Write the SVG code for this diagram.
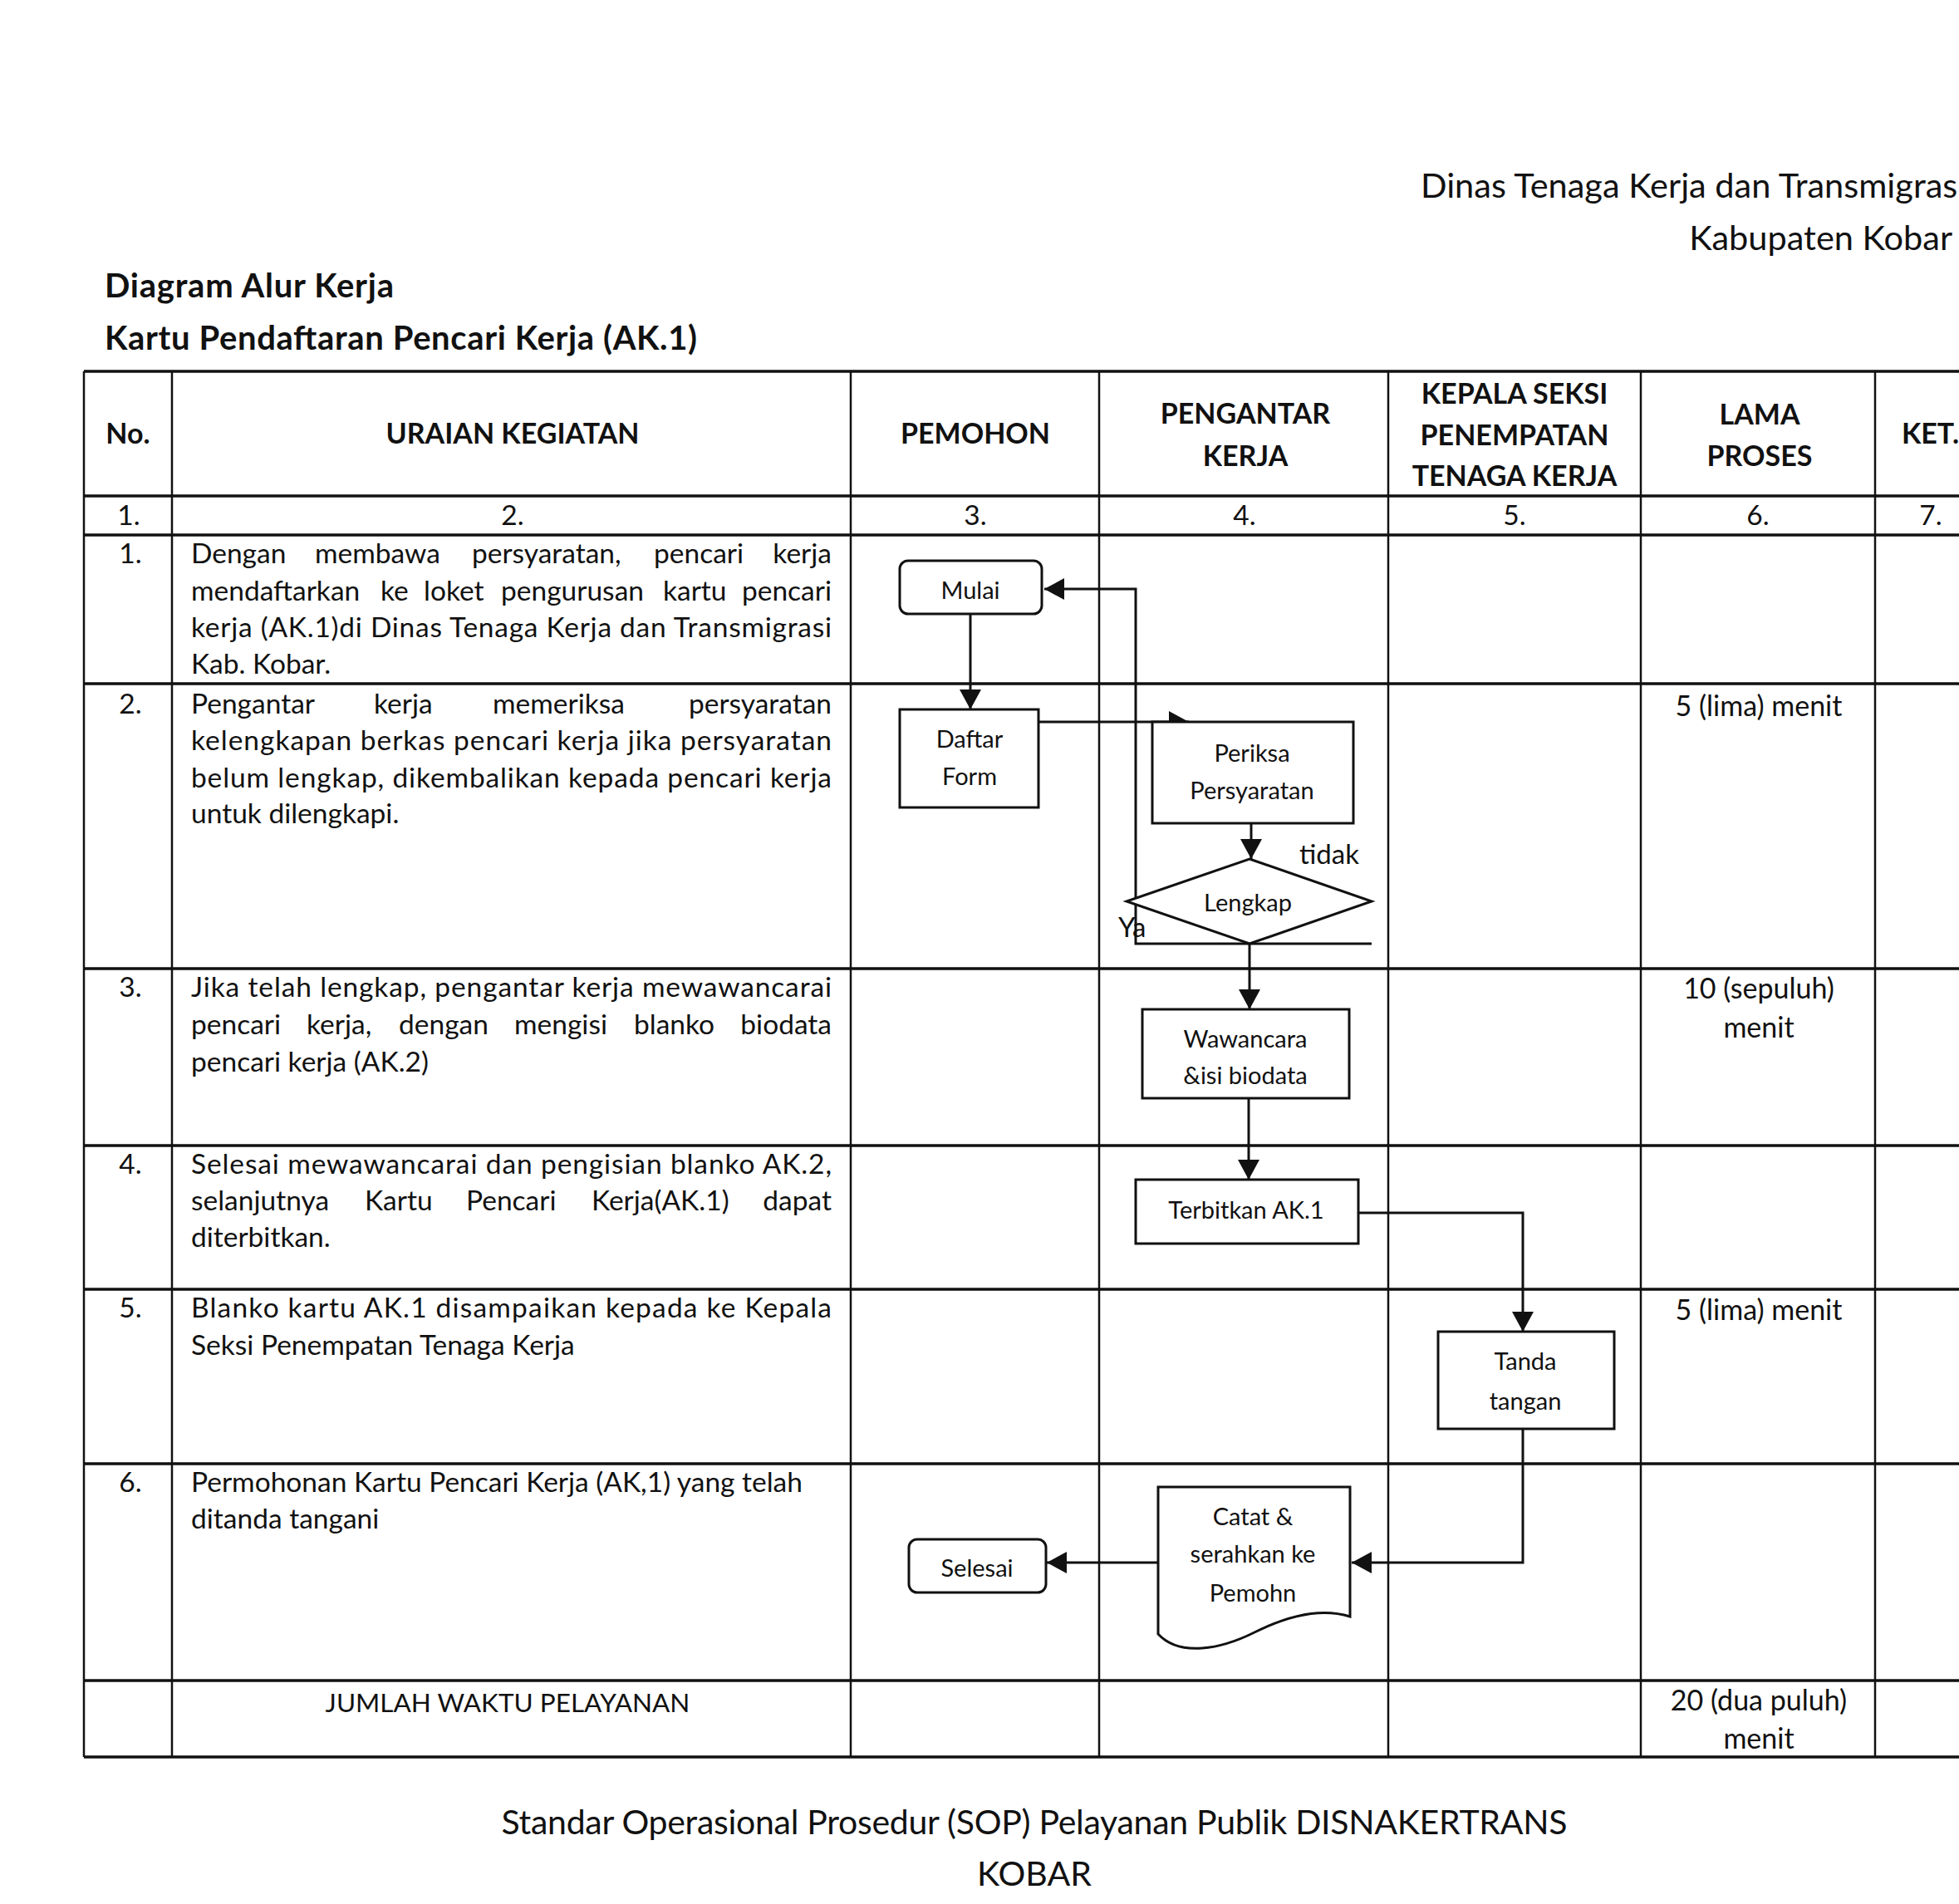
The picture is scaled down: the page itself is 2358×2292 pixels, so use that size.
<svg xmlns="http://www.w3.org/2000/svg" width="2358" height="2292" viewBox="0 0 2358 2292">
<style>
.t{font-family:Lato,'Liberation Sans',sans-serif;fill:#111;font-size:33.5px}
.b{font-weight:bold}
.h{font-family:Lato,'Liberation Sans',sans-serif;fill:#111;font-size:34px;font-weight:bold;text-anchor:middle}
.c{text-anchor:middle}
.n{font-family:Lato,'Liberation Sans',sans-serif;fill:#111;font-size:29px;text-anchor:middle}
.d{font-family:Lato,'Liberation Sans',sans-serif;fill:#111;font-size:34px;text-anchor:middle}
.hl{stroke:#111;stroke-width:3.5;fill:none}
.vl{stroke:#111;stroke-width:2.5;fill:none}
.box{fill:#fff;stroke:#111;stroke-width:3}
.con{fill:none;stroke:#111;stroke-width:3}
</style>
<defs>
<marker id="arr" viewBox="0 0 24 26" refX="24" refY="13" markerWidth="24" markerHeight="26" orient="auto" markerUnits="userSpaceOnUse">
<path d="M0,0 L24,13 L0,26 Z" fill="#111"/>
</marker>
</defs>
<rect width="2358" height="2292" fill="#fff"/>

<g id="page-header">
<text class="t" x="1710" y="238" style="font-size:41.5px">Dinas Tenaga Kerja dan Transmigras</text>
<text class="t" x="2350" y="301" style="font-size:41.5px;text-anchor:end">Kabupaten Kobar</text>
<text class="t b" x="126" y="358" style="font-size:40px" textLength="348">Diagram Alur Kerja</text>
<text class="t b" x="126" y="421" style="font-size:40px" textLength="713">Kartu Pendaftaran Pencari Kerja (AK.1)</text>
</g>

<g id="table">
<g id="grid-h">
<line class="hl" x1="101" y1="447" x2="2358" y2="447"/>
<line class="hl" x1="101" y1="597" x2="2358" y2="597"/>
<line class="hl" x1="101" y1="644" x2="2358" y2="644"/>
<line class="hl" x1="101" y1="823" x2="2358" y2="823"/>
<line class="hl" x1="101" y1="1166" x2="2358" y2="1166"/>
<line class="hl" x1="101" y1="1379" x2="2358" y2="1379"/>
<line class="hl" x1="101" y1="1552" x2="2358" y2="1552"/>
<line class="hl" x1="101" y1="1762" x2="2358" y2="1762"/>
<line class="hl" x1="101" y1="2023" x2="2358" y2="2023"/>
<line class="hl" x1="101" y1="2115" x2="2358" y2="2115"/>
</g>
<g id="grid-v">
<line class="vl" x1="101" y1="447" x2="101" y2="2115"/>
<line class="vl" x1="207" y1="447" x2="207" y2="2115"/>
<line class="vl" x1="1024" y1="447" x2="1024" y2="2115"/>
<line class="vl" x1="1323" y1="447" x2="1323" y2="2115"/>
<line class="vl" x1="1671" y1="447" x2="1671" y2="2115"/>
<line class="vl" x1="1975" y1="447" x2="1975" y2="2115"/>
<line class="vl" x1="2257" y1="447" x2="2257" y2="2115"/>
</g>
<g id="headers">
<text class="h" x="154" y="534">No.</text>
<text class="h" x="617" y="534">URAIAN KEGIATAN</text>
<text class="h" x="1174" y="534">PEMOHON</text>
<text class="h" x="1499" y="510">PENGANTAR</text>
<text class="h" x="1499" y="561">KERJA</text>
<text class="h" x="1823" y="486">KEPALA SEKSI</text>
<text class="h" x="1823" y="536">PENEMPATAN</text>
<text class="h" x="1823" y="585">TENAGA KERJA</text>
<text class="h" x="2118" y="511">LAMA</text>
<text class="h" x="2118" y="561">PROSES</text>
<text class="h" x="2289" y="534" style="text-anchor:start">KET.</text>
</g>
<g id="col-numbers">
<text class="t c" x="155" y="632">1.</text>
<text class="t c" x="617" y="632">2.</text>
<text class="t c" x="1174" y="632">3.</text>
<text class="t c" x="1498" y="632">4.</text>
<text class="t c" x="1823" y="632">5.</text>
<text class="t c" x="2116" y="632">6.</text>
<text class="t c" x="2324" y="632">7.</text>
</g>
<g id="row-numbers">
<text class="t c" x="157" y="678">1.</text>
<text class="t c" x="157" y="859">2.</text>
<text class="t c" x="157" y="1200">3.</text>
<text class="t c" x="157" y="1413">4.</text>
<text class="t c" x="157" y="1586">5.</text>
<text class="t c" x="157" y="1796">6.</text>
</g>
<g id="descriptions">
<text class="t" y="678"><tspan x="230">Dengan</tspan> <tspan x="379">membawa</tspan> <tspan x="568">persyaratan,</tspan> <tspan x="787">pencari</tspan> <tspan x="1001" text-anchor="end">kerja</tspan></text>
<text class="t" y="723"><tspan x="230">mendaftarkan</tspan> <tspan x="458">ke</tspan> <tspan x="510">loket</tspan> <tspan x="603">pengurusan</tspan> <tspan x="798">kartu</tspan> <tspan x="1001" text-anchor="end">pencari</tspan></text>
<text class="t" x="230" y="767" textLength="771" lengthAdjust="spacing">kerja (AK.1)di Dinas Tenaga Kerja dan Transmigrasi</text>
<text class="t" x="230" y="811">Kab. Kobar.</text>

<text class="t" y="859"><tspan x="230">Pengantar</tspan> <tspan x="450">kerja</tspan> <tspan x="593">memeriksa</tspan> <tspan x="1001" text-anchor="end">persyaratan</tspan></text>
<text class="t" x="230" y="903" textLength="771" lengthAdjust="spacing">kelengkapan berkas pencari kerja jika persyaratan</text>
<text class="t" x="230" y="948" textLength="771" lengthAdjust="spacing">belum lengkap, dikembalikan kepada pencari kerja</text>
<text class="t" x="230" y="991">untuk dilengkapi.</text>

<text class="t" x="230" y="1200" textLength="771" lengthAdjust="spacing">Jika telah lengkap, pengantar kerja  mewawancarai</text>
<text class="t" y="1245"><tspan x="230">pencari</tspan> <tspan x="369">kerja,</tspan> <tspan x="480">dengan</tspan> <tspan x="619">mengisi</tspan> <tspan x="763">blanko</tspan> <tspan x="1001" text-anchor="end">biodata</tspan></text>
<text class="t" x="230" y="1290">pencari kerja (AK.2)</text>

<text class="t" x="230" y="1413" textLength="771" lengthAdjust="spacing">Selesai mewawancarai dan pengisian blanko AK.2,</text>
<text class="t" y="1457"><tspan x="230">selanjutnya</tspan> <tspan x="439">Kartu</tspan> <tspan x="561">Pencari</tspan> <tspan x="712">Kerja(AK.1)</tspan> <tspan x="1001" text-anchor="end">dapat</tspan></text>
<text class="t" x="230" y="1501">diterbitkan.</text>

<text class="t" x="230" y="1586" textLength="771" lengthAdjust="spacing">Blanko kartu AK.1 disampaikan kepada  ke Kepala</text>
<text class="t" x="230" y="1631">Seksi  Penempatan Tenaga Kerja</text>

<text class="t" x="230" y="1796">Permohonan Kartu Pencari Kerja (AK,1) yang telah</text>
<text class="t" x="230" y="1840">ditanda tangani</text>

<text class="t c" x="611" y="2061" style="font-size:31.5px">JUMLAH WAKTU PELAYANAN</text>
</g>
<g id="durations">
<text class="d" x="2117" y="862">5 (lima) menit</text>
<text class="d" x="2117" y="1202">10 (sepuluh)</text>
<text class="d" x="2117" y="1249">menit</text>
<text class="d" x="2117" y="1589">5 (lima) menit</text>
<text class="d" x="2117" y="2059">20 (dua puluh)</text>
<text class="d" x="2117" y="2105">menit</text>
</g>
</g>

<g id="connectors">
<path class="con" d="M1168,739 V854" marker-end="url(#arr)"/>
<path class="con" d="M1250,869 H1431" marker-end="url(#arr)"/>
<path class="con" d="M1506,991 V1034" marker-end="url(#arr)"/>
<path class="con" d="M1651,1136 H1367 V709 H1257" marker-end="url(#arr)"/>
<path class="con" d="M1504,1136 V1215" marker-end="url(#arr)"/>
<path class="con" d="M1503,1322 V1420" marker-end="url(#arr)"/>
<path class="con" d="M1635,1460 H1833 V1603" marker-end="url(#arr)"/>
<path class="con" d="M1833,1720 V1881 H1627" marker-end="url(#arr)"/>
<path class="con" d="M1394,1881 H1260" marker-end="url(#arr)"/>
<text class="t" x="1564" y="1040" style="font-size:33px">tidak</text>
<text class="t" x="1346" y="1128" style="font-size:33px">Ya</text>
</g>

<g id="node-mulai">
<rect class="box" x="1083" y="675" width="171" height="64" rx="10"/>
<text class="n" x="1168" y="721">Mulai</text>
</g>
<g id="node-daftar">
<rect class="box" x="1083" y="854" width="167" height="118"/>
<text class="n" x="1167" y="900">Daftar</text>
<text class="n" x="1167" y="945">Form</text>
</g>
<g id="node-periksa">
<rect class="box" x="1387" y="869" width="242" height="122"/>
<text class="n" x="1507" y="917">Periksa</text>
<text class="n" x="1507" y="962">Persyaratan</text>
</g>
<g id="node-lengkap">
<polygon class="box" points="1504,1034 1651,1085 1504,1136 1356,1085"/>
<text class="n" x="1502" y="1097">Lengkap</text>
</g>
<g id="node-wawancara">
<rect class="box" x="1375" y="1215" width="249" height="107"/>
<text class="n" x="1499" y="1261">Wawancara</text>
<text class="n" x="1499" y="1305">&amp;isi biodata</text>
</g>
<g id="node-terbitkan">
<rect class="box" x="1367" y="1420" width="268" height="77"/>
<text class="n" x="1500" y="1467">Terbitkan AK.1</text>
</g>
<g id="node-tanda">
<rect class="box" x="1731" y="1603" width="212" height="117"/>
<text class="n" x="1836" y="1649">Tanda</text>
<text class="n" x="1836" y="1697">tangan</text>
</g>
<g id="node-catat">
<path class="box" d="M1394,1790 H1625 V1946 C1590,1935 1550,1945 1510,1965 C1470,1985 1420,1995 1394,1967 Z"/>
<text class="n" x="1508" y="1836">Catat &amp;</text>
<text class="n" x="1508" y="1881">serahkan ke</text>
<text class="n" x="1508" y="1928">Pemohn</text>
</g>
<g id="node-selesai">
<rect class="box" x="1094" y="1853" width="165" height="64" rx="10"/>
<text class="n" x="1176" y="1898">Selesai</text>
</g>

<g id="footer">
<text class="t c" x="1245" y="2208" style="font-size:41px" textLength="1283">Standar Operasional Prosedur (SOP) Pelayanan Publik DISNAKERTRANS</text>
<text class="t c" x="1245" y="2270" style="font-size:41px">KOBAR</text>
</g>
</svg>
